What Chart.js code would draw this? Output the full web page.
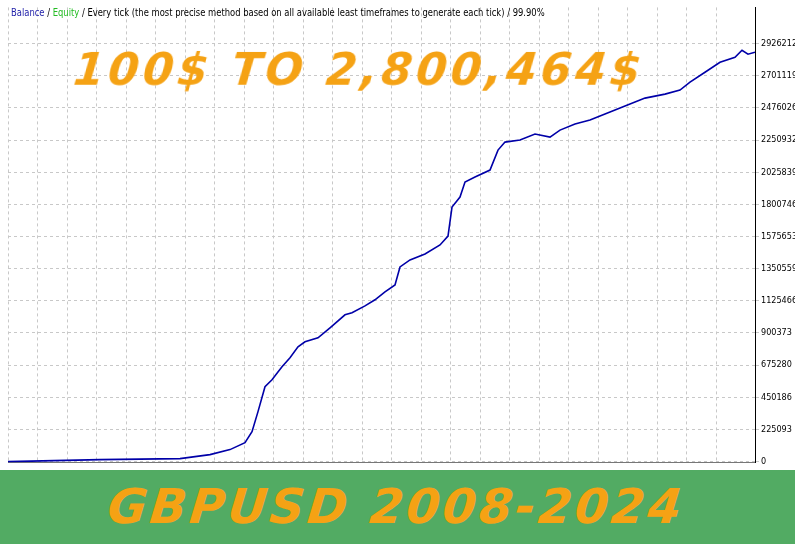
<!DOCTYPE html><html><head><script src="https://cdn.jsdelivr.net/npm/chart.js@4"></script>
<style>body{margin:0;width:795px;height:544px;overflow:hidden;background:#fff;font-family:Tahoma,"DejaVu Sans",sans-serif;position:relative}
#w{position:absolute;left:0;top:0;width:795px;height:470px}
#leg{position:absolute;left:11px;top:6px;font-size:10.5px;color:#000;white-space:nowrap;transform:scaleX(0.8);transform-origin:left}
#t{position:absolute;left:74px;top:44px;font:italic 900 44px "DejaVu Sans";color:#f5a214;letter-spacing:4px;transform:skewX(-6deg)}
#band{position:absolute;left:0;top:470px;width:795px;height:74px;background:#52ab63}
#b{position:absolute;left:108px;top:478px;font:italic 900 48px "DejaVu Sans";color:#f5a214;letter-spacing:3px;transform:skewX(-6deg)}
</style></head><body>
<div id="w"><canvas id="c" width="795" height="470"></canvas></div>
<div id="leg"><span style="color:#2222aa">Balance</span> / <span style="color:#22bb22">Equity</span> / Every tick (the most precise method based on all available least timeframes to generate each tick) / 99.90%</div>
<div id="t">100$ TO 2,800,464$</div>
<div id="band"></div><div id="b">GBPUSD 2008-2024</div>
<script>
const steps=[0,92,172,202,222,237,244,250,257,264,274,282,290,297,310,322,337,344,357,367,377,387,392,402,417,432,440,444,452,457,467,482,490,497,512,527,542,552,567,582,602,617,637,657,672,682,697,712,727,734,740,747];
const balance=[100,14000,21000,49000,84000,133000,210000,350000,524000,573000,664000,727000,804000,839000,867000,937000,1028000,1042000,1090000,1133000,1189000,1237000,1363000,1412000,1454000,1517000,1579000,1782000,1852000,1957000,1992000,2041000,2181000,2237000,2251000,2293000,2272000,2321000,2363000,2391000,2447000,2489000,2545000,2573000,2601000,2657000,2726000,2796000,2831000,2880000,2852000,2866000];
const yTicks=[0,225093,450186,675280,900373,1125466,1350559,1575653,1800746,2025839,2250932,2476026,2701119,2926212];
new Chart(document.getElementById('c'),{type:'line',
data:{datasets:[{data:steps.map((s,i)=>({x:s,y:balance[i]})),borderColor:'#0000a8',borderWidth:1.6,pointRadius:0,tension:0}]},
options:{responsive:false,animation:false,plugins:{legend:{display:false},tooltip:{enabled:false}},
layout:{padding:{left:8,top:5,right:0,bottom:0}},
scales:{x:{type:'linear',min:0,max:747,ticks:{display:false,stepSize:29.5},grid:{color:'#c8c8c8',drawTicks:false},border:{display:true,color:'#777',dash:[3,3]}},
y:{position:'right',min:-7000,max:3180000,afterFit:s=>{s.width=40},afterBuildTicks:a=>{a.ticks=yTicks.map(v=>({value:v}))},
ticks:{color:'#000',font:{size:9,family:'Liberation Sans Narrow, DejaVu Sans Condensed, Liberation Sans'},padding:2,callback:v=>String(v)},grid:{color:'#c8c8c8',tickLength:4},border:{color:'#000',dash:[3,3]}}}}});
</script></body></html>
